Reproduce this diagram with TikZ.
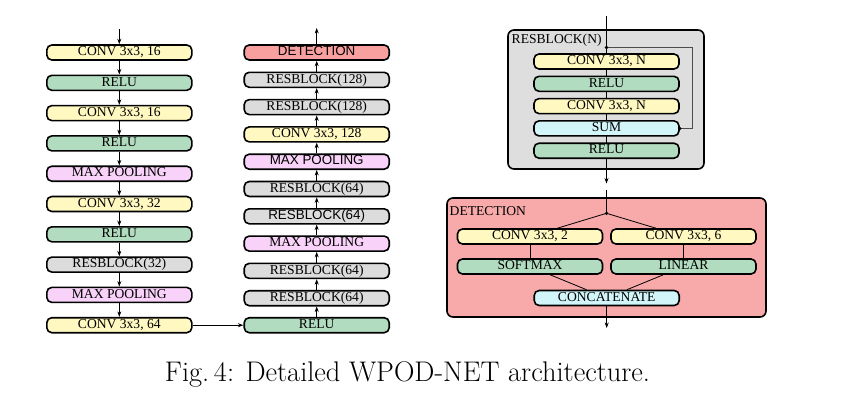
\documentclass[tikz,border=0pt]{standalone}
\usepackage{fontspec}
\newfontfamily\tms{Liberation Serif}
\newfontfamily\arl{Liberation Sans}
\usetikzlibrary{arrows.meta}
\pgfdeclarelayer{panel}
\pgfdeclarelayer{wire}
\pgfsetlayers{panel,wire,main}
\definecolor{cyel}{HTML}{FFF8C0}
\definecolor{cgrn}{HTML}{B2DCC0}
\definecolor{cred}{HTML}{F8A0A0}
\definecolor{cgry}{HTML}{DCDCDC}
\definecolor{cpnk}{HTML}{F9D2F9}
\definecolor{ccyn}{HTML}{D2F5F9}
\definecolor{pgry}{HTML}{DEDEDE}
\definecolor{pred}{HTML}{F8A9A9}
\begin{document}
\begin{tikzpicture}[x=1pt,y=-1pt,
  blk/.style={draw=black, line width=1.6pt, rounded corners=5pt, minimum width=145pt,
    minimum height=15pt, inner sep=0pt, text height=9pt, text depth=2.5pt,
    font=\tms\fontsize{13.6}{15}\selectfont},
  sans/.style={font=\arl\fontsize{13.4}{15}\selectfont},
  yel/.style={blk, fill=cyel}, grn/.style={blk, fill=cgrn}, red/.style={blk, fill=cred},
  gry/.style={blk, fill=cgry}, pnk/.style={blk, fill=cpnk}, cyn/.style={blk, fill=ccyn},
  panelbox/.style={draw=black, line width=1.6pt, rounded corners=6pt, inner sep=0pt},
  lbl/.style={anchor=west, inner sep=0pt, font=\tms\fontsize{13.6}{15}\selectfont},
  arr/.style={line width=0.8pt, -{Stealth[length=5.5pt,width=4pt]}},
  wire/.style={line width=0.8pt},
  byp/.style={line width=0.7pt, draw=black!70}
]
\useasboundingbox (0,0) rectangle (863,405);

% ---------- left column ----------
\node[yel] (l1) at (119.3,52.5) {CONV 3x3, 16};
\node[grn] (l2) at (119.3,82.8) {RELU};
\node[yel] (l3) at (119.3,113.1) {CONV 3x3, 16};
\node[grn] (l4) at (119.3,143.4) {RELU};
\node[pnk] (l5) at (119.3,173.7) {MAX POOLING};
\node[yel] (l6) at (119.3,204) {CONV 3x3, 32};
\node[grn] (l7) at (119.3,234.3) {RELU};
\node[gry] (l8) at (119.3,264.6) {RESBLOCK(32)};
\node[pnk] (l9) at (119.3,294.9) {MAX POOLING};
\node[yel] (l10) at (119.3,325.2) {CONV 3x3, 64};
\coordinate (lin) at (119.3,29);
\draw[arr] (lin) -- (l1.north);
\foreach \a/\b in {l1/l2,l2/l3,l3/l4,l4/l5,l5/l6,l6/l7,l7/l8,l8/l9,l9/l10}
  \draw[arr] (\a.south) -- (\b.north);

% ---------- middle column ----------
\node[red,sans] (m1) at (316.7,52.5) {DETECTION};
\node[gry] (m2) at (316.7,79.8) {RESBLOCK(128)};
\node[gry] (m3) at (316.7,107.1) {RESBLOCK(128)};
\node[yel] (m4) at (316.7,134.4) {CONV 3x3, 128};
\node[pnk,sans] (m5) at (316.7,161.7) {MAX POOLING};
\node[gry] (m6) at (316.7,189) {RESBLOCK(64)};
\node[gry,sans] (m7) at (316.7,216.3) {RESBLOCK(64)};
\node[pnk] (m8) at (316.7,243.6) {MAX POOLING};
\node[gry] (m9) at (316.7,270.9) {RESBLOCK(64)};
\node[gry] (m10) at (316.7,298.2) {RESBLOCK(64)};
\node[grn] (m11) at (316.7,325.2) {RELU};
\coordinate (mout) at (316.7,28);
\draw[arr] (m1.north) -- (mout);
\foreach \a/\b in {m11/m10,m10/m9,m9/m8,m8/m7,m7/m6,m6/m5,m5/m4,m4/m3,m3/m2,m2/m1}
  \draw[arr] (\a.north) -- (\b.south);
\draw[arr] (l10.east) -- (m11.west);

% ---------- panels ----------
\begin{pgfonlayer}{panel}
\node[panelbox, fill=pgry, minimum width=196pt, minimum height=139pt] (rpanel) at (606,99.5) {};
\node[panelbox, fill=pred, minimum width=319pt, minimum height=119pt] (dpanel) at (606.5,257.5) {};
\end{pgfonlayer}

% ---------- resblock ----------
\node[lbl] (rlbl) at (511.5,40.5) {RESBLOCK(N)};
\node[yel] (r1) at (606.5,61.5) {CONV 3x3, N};
\node[grn] (r2) at (606.5,83.8) {RELU};
\node[yel] (r3) at (606.5,106.1) {CONV 3x3, N};
\node[cyn] (r4) at (606.5,128.4) {SUM};
\node[grn] (r5) at (606.5,150.7) {RELU};
\coordinate (rtop) at (606.5,16);
\coordinate (rdot) at (606.5,47.5);
\coordinate (rbot) at (606.5,183.5);
\begin{pgfonlayer}{wire}
\draw[arr] (rtop) -- (rbot);
\end{pgfonlayer}
\draw[byp] (rdot) -- ++(85.8,0) |- (r4.east);
\fill (rdot) circle (1.8pt);
\fill (r4.east) circle (1.8pt);

% ---------- detection ----------
\node[lbl] (dlbl) at (449.5,211) {DETECTION};
\coordinate (dtop) at (606.5,189.5);
\coordinate (ddot) at (606.5,213.3);
\node[yel] (d1) at (530,236.5) {CONV 3x3, 2};
\node[yel] (d2) at (683.5,236.5) {CONV 3x3, 6};
\node[grn] (d3) at (530,266.5) {SOFTMAX};
\node[grn] (d4) at (683.5,266.5) {LINEAR};
\node[cyn] (d5) at (606.7,298) {CONCATENATE};
\coordinate (dbot) at (606.7,328);
\draw[wire] (dtop) -- (ddot);
\fill (ddot) circle (1.8pt);
\draw[wire] (ddot) -- (d1);
\draw[wire] (ddot) -- (d2);
\draw[wire] (d1) -- (d3);
\draw[wire] (d2) -- (d4);
\draw[wire] (d3) -- (d5);
\draw[wire] (d4) -- (d5);
\draw[arr] (d5.south) -- (dbot);

% ---------- caption ----------
\node[inner sep=0pt, font=\fontsize{28.4}{32}\selectfont] (cap) at (407.5,374) {Fig.\,4: Detailed WPOD-NET architecture.};
\end{tikzpicture}
\end{document}
